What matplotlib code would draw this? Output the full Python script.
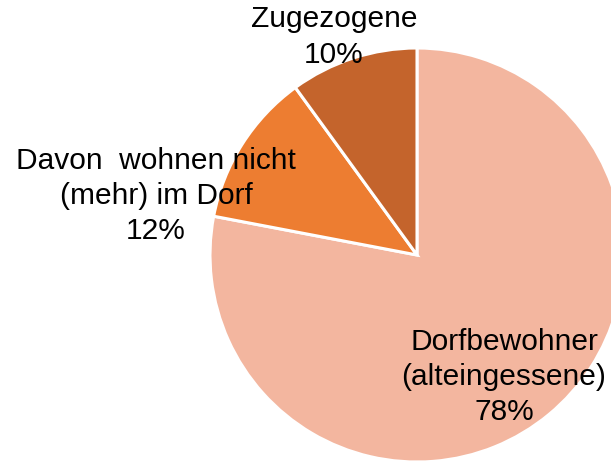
import matplotlib.pyplot as plt

# Anteile der Einwohnergruppen
labels = ["Dorfbewohner\n(alteingessene)", "Davon  wohnen nicht\n(mehr) im Dorf", "Zugezogene"]
shares = [78, 12, 10]
colors = ["#F3B69F", "#ED7D31", "#C4642C"]

# Beschriftungspositionen in Pixeln (x, y von unten)
label_pos = [(504, 86), (156, 267), (334, 426)]

plt.rcParams['font.family'] = ['Liberation Sans', 'DejaVu Sans']

fig = plt.figure(figsize=(6.11, 4.63), dpi=100)
ax = fig.add_axes([0, 0, 1, 1])

ax.pie(shares, colors=colors, startangle=90, counterclock=False,
       center=(417, 208), radius=207, frame=True,
       wedgeprops=dict(edgecolor='white', linewidth=2.2))
ax.set_xlim(0, 611)
ax.set_ylim(0, 463)
ax.set_aspect('equal')
ax.axis('off')

for lab, val, (x, y) in zip(labels, shares, label_pos):
    ax.text(x, y, f"{lab}\n{val}%", ha='center', va='center',
            fontsize=21.5, linespacing=1.34, color='black')

fig.savefig("out.png", dpi=100)
